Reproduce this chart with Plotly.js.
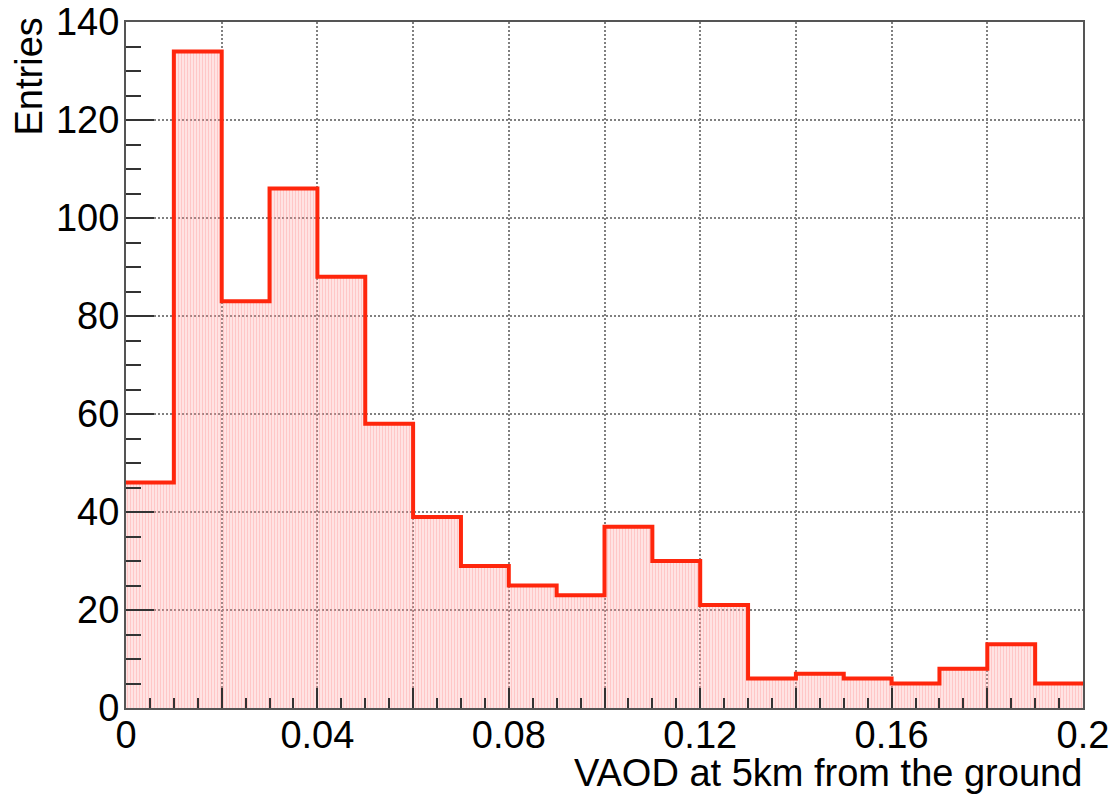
<!DOCTYPE html>
<html>
<head>
<meta charset="utf-8">
<script src="https://cdn.plot.ly/plotly-3.0.1.min.js"></script>
<style>
  html, body { margin: 0; padding: 0; background: #ffffff; }
  #chart { width: 1112px; height: 796px; }
</style>
</head>
<body>
<div id="chart"></div>
<script>
// Histogram of VAOD at 5 km above ground, 20 bins of width 0.01
const binEdges = [0, 0.01, 0.02, 0.03, 0.04, 0.05, 0.06, 0.07, 0.08, 0.09, 0.10,
                  0.11, 0.12, 0.13, 0.14, 0.15, 0.16, 0.17, 0.18, 0.19, 0.20];
const entries = [46, 134, 83, 106, 88, 58, 39, 29, 25, 23,
                 37, 30, 21, 6, 7, 6, 5, 8, 13, 5];

const xTickVals = [0, 0.02, 0.04, 0.06, 0.08, 0.10, 0.12, 0.14, 0.16, 0.18, 0.20];
const xTickText = ['0', '', '0.04', '', '0.08', '', '0.12', '', '0.16', '', '0.2'];
const yTickVals = [0, 20, 40, 60, 80, 100, 120, 140];

const binLow = binEdges.slice(0, -1);
const binWidth = binEdges[1] - binEdges[0];

const lineColor = 'rgb(255,38,12)';
const fontFamily = '"Liberation Sans", Arial, Helvetica, sans-serif';

// hatched fill of each bin
const fill = {
  type: 'bar',
  x: binLow,
  y: entries,
  offset: 0,
  width: binWidth,
  marker: {
    color: 'rgba(0,0,0,0)',
    line: { width: 0 },
    pattern: {
      shape: '|',
      fillmode: 'overlay',
      fgcolor: '#ff9090',
      size: 3,
      solidity: 0.68
    }
  },
  hoverinfo: 'skip',
  showlegend: false
};

// step outline along the bin tops
const outline = {
  type: 'scatter',
  mode: 'lines',
  x: binEdges,
  y: entries.concat([entries[entries.length - 1]]),
  line: { shape: 'hv', color: lineColor, width: 4 },
  hoverinfo: 'skip',
  showlegend: false
};

const axisCommon = {
  showline: true,
  linecolor: '#555',
  linewidth: 2,
  mirror: true,
  ticks: 'inside',
  tickcolor: '#333',
  tickwidth: 2,
  showgrid: true,
  gridcolor: '#808080',
  gridwidth: 2,
  griddash: '2px,2px',
  zeroline: false,
  layer: 'above traces',
  tickfont: { family: fontFamily, size: 38, color: '#000' }
};

const layout = {
  width: 1112,
  height: 796,
  margin: { l: 126, r: 29, t: 22, b: 88 },
  paper_bgcolor: '#ffffff',
  plot_bgcolor: '#ffffff',
  bargap: 0,
  xaxis: Object.assign({}, axisCommon, {
    range: [0, 0.2],
    tickmode: 'array',
    tickvals: xTickVals,
    ticktext: xTickText,
    ticklen: 20,
    ticklabelstandoff: -8,
    minor: { dtick: 0.005, tick0: 0, ticks: 'inside', ticklen: 10, tickwidth: 2, tickcolor: '#333', showgrid: false }
  }),
  yaxis: Object.assign({}, axisCommon, {
    range: [0, 140],
    tickmode: 'array',
    tickvals: yTickVals,
    ticklen: 28,
    ticklabelstandoff: -3,
    minor: { dtick: 5, tick0: 0, ticks: 'inside', ticklen: 15, tickwidth: 2, tickcolor: '#333', showgrid: false }
  }),
  annotations: [
    {
      text: 'VAOD at 5km from the ground',
      xref: 'paper', yref: 'paper',
      x: 1, y: -0.127,
      xanchor: 'right', yanchor: 'bottom',
      borderpad: 0,
      showarrow: false,
      font: { family: fontFamily, size: 38, color: '#000' }
    },
    {
      text: 'Entries',
      textangle: -90,
      xref: 'paper', yref: 'paper',
      x: -0.101, y: 1.01,
      xanchor: 'center', yanchor: 'top',
      showarrow: false,
      font: { family: fontFamily, size: 38, color: '#000' }
    }
  ]
};

Plotly.newPlot('chart', [fill, outline], layout, { displayModeBar: false, staticPlot: true });
</script>
</body>
</html>
